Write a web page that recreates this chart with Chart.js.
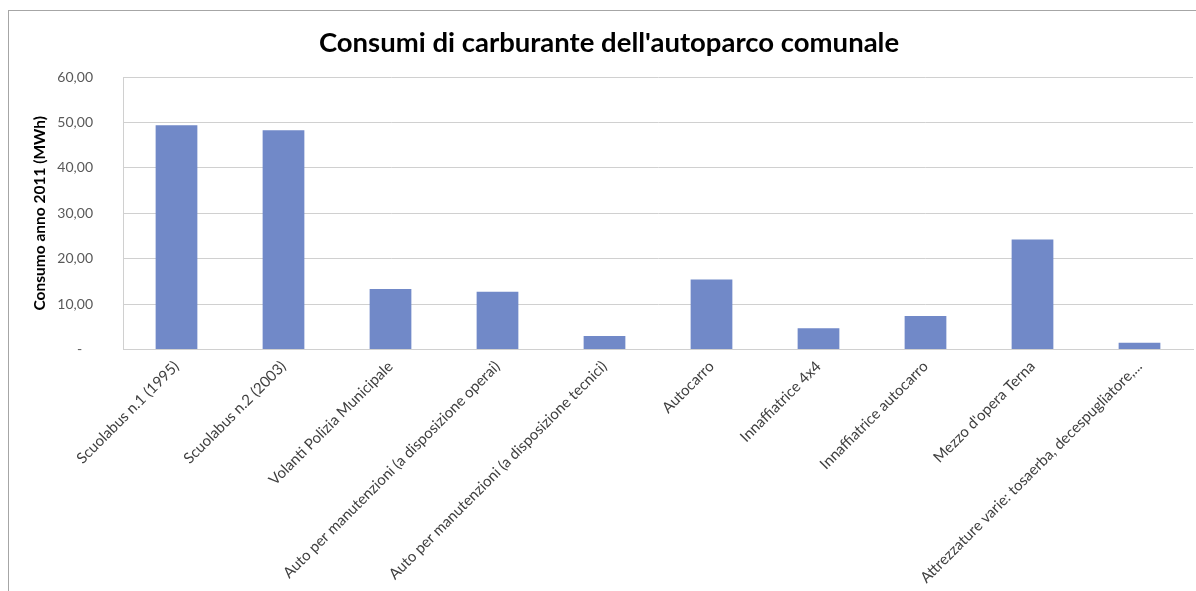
<!DOCTYPE html>
<html>
<head>
<meta charset="utf-8">
<script src="https://cdn.jsdelivr.net/npm/chart.js@4/dist/chart.umd.min.js"></script>
<style>
  html, body { margin: 0; padding: 0; background: #ffffff; }
  #wrap { width: 1196px; height: 591px; position: relative; }
</style>
</head>
<body>
<div id="wrap"><canvas id="c" width="1196" height="591"></canvas></div>
<script>
// Fuel consumption of the municipal vehicle fleet, year 2011 (MWh)
const categories = [
  "Scuolabus n.1 (1995)",
  "Scuolabus n.2 (2003)",
  "Volanti Polizia Municipale",
  "Auto per manutenzioni (a disposizione operai)",
  "Auto per manutenzioni (a disposizione tecnici)",
  "Autocarro",
  "Innaffiatrice 4x4",
  "Innaffiatrice autocarro",
  "Mezzo d'opera Terna",
  "Attrezzature varie: tosaerba, decespugliatore,..."
];
const consumptionMWh = [49.4, 48.3, 13.3, 12.7, 3.0, 15.4, 4.7, 7.4, 24.2, 1.5];
const yTickValues = [0, 10, 20, 30, 40, 50, 60];

const titleText = "Consumi di carburante dell'autoparco comunale";
const yTitleText = "Consumo anno 2011 (MWh)";

const FONT = "Lato, 'Open Sans', 'Liberation Sans', sans-serif";

// outer frame around the chart object
const framePlugin = {
  id: 'frame',
  beforeDraw(chart) {
    const ctx = chart.ctx;
    ctx.save();
    ctx.fillStyle = '#ffffff';
    ctx.fillRect(0, 0, chart.width, chart.height);
    ctx.strokeStyle = '#a6a6a6';
    ctx.lineWidth = 1;
    ctx.strokeRect(8.5, 10.5, chart.width + 40, chart.height + 40);
    ctx.restore();
  }
};

function formatTick(v) {
  if (v === 0) return '-   ';
  return v.toFixed(2).replace('.', ',');
}

new Chart(document.getElementById('c'), {
  type: 'bar',
  data: {
    labels: categories,
    datasets: [{
      data: consumptionMWh,
      backgroundColor: '#7189c8',
      borderWidth: 0,
      barPercentage: 0.39,
      categoryPercentage: 1.0
    }]
  },
  options: {
    responsive: false,
    animation: false,
    devicePixelRatio: 1,
    layout: { padding: { left: 25, right: 3, top: 10, bottom: 0 } },
    plugins: {
      legend: { display: false },
      tooltip: { enabled: false },
      title: {
        display: true,
        text: titleText,
        color: '#000000',
        font: { family: FONT, size: 27.5, weight: 'bold', lineHeight: 1.2 },
        padding: { top: 16.5, bottom: 17.5 }
      }
    },
    scales: {
      x: {
        grid: { display: false, drawTicks: false },
        border: { display: true, color: '#d0d0d0' },
        ticks: {
          autoSkip: false,
          minRotation: 45,
          maxRotation: 45,
          padding: 8,
          color: '#404040',
          font: { family: FONT, size: 15 }
        },
        afterFit(scale) { scale.height = 241.5; }
      },
      y: {
        min: 0,
        max: 60,
        afterBuildTicks(scale) { scale.ticks = yTickValues.map(v => ({ value: v })); },
        grid: { color: '#d0d0d0', lineWidth: 1, drawTicks: false },
        border: { display: true, color: '#d0d0d0' },
        ticks: {
          padding: 30,
          color: '#595959',
          font: { family: FONT, size: 14 },
          callback: (v) => formatTick(v)
        },
        title: {
          display: true,
          text: yTitleText,
          color: '#000000',
          font: { family: FONT, size: 15.5, weight: 'bold', lineHeight: 1.2 },
          padding: { top: 6, bottom: 0 }
        },
        afterFit(scale) { scale.width = 98; }
      }
    }
  },
  plugins: [framePlugin]
});
</script>
</body>
</html>
